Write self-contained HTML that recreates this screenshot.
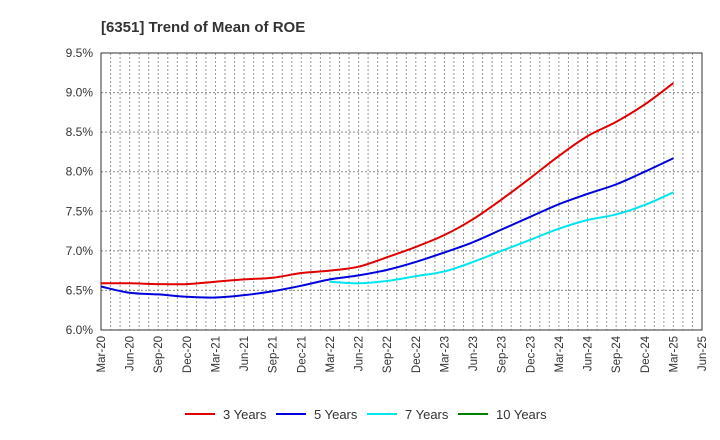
<!DOCTYPE html>
<html><head><meta charset="utf-8"><style>
body{margin:0;background:#fff;}
svg{display:block;font-family:"Liberation Sans",sans-serif;}
</style></head><body>
<svg width="720" height="440" xmlns="http://www.w3.org/2000/svg">
<text x="101" y="32" font-size="15" font-weight="bold" fill="#333">[6351]  Trend of Mean of ROE</text>
<g id="grid"></g>
<rect x="101" y="53" width="601" height="277" fill="none" stroke="#333" stroke-width="1"/>
<g id="yt"></g><g id="xt"></g><g id="lines"></g><g id="legend"></g>
</svg>
<script>
const xLabels=["Mar-20","Jun-20","Sep-20","Dec-20","Mar-21","Jun-21","Sep-21","Dec-21","Mar-22","Jun-22","Sep-22","Dec-22","Mar-23","Jun-23","Sep-23","Dec-23","Mar-24","Jun-24","Sep-24","Dec-24","Mar-25","Jun-25"];
const yTicks=[6.0,6.5,7.0,7.5,8.0,8.5,9.0,9.5];
const s3=[6.59,6.59,6.58,6.58,6.61,6.64,6.66,6.72,6.75,6.80,6.92,7.05,7.20,7.40,7.65,7.92,8.20,8.45,8.63,8.85,9.12];
const s5=[6.55,6.47,6.45,6.42,6.41,6.44,6.49,6.56,6.64,6.69,6.76,6.86,6.98,7.11,7.27,7.43,7.59,7.72,7.84,8.00,8.17];
const s7=[6.61,6.59,6.62,6.68,6.74,6.86,7.00,7.14,7.28,7.39,7.46,7.58,7.74];
const s7start=8;
const s10=[];
const NS="http://www.w3.org/2000/svg";
const X0=101,X1=702,Y0=330,Y1=53,months=63;
const xm=m=>X0+(X1-X0)*m/months;
const xq=i=>xm(i*3);
const y=v=>Y0-(v-6.0)/(9.5-6.0)*(Y0-Y1);
function mk(t,a,p){const e=document.createElementNS(NS,t);for(const k in a)e.setAttribute(k,a[k]);p.appendChild(e);return e;}
const grid=document.getElementById('grid');
for(let m=1;m<months;m++){const l=mk('line',{x1:xm(m),x2:xm(m),y1:Y1,y2:Y0,stroke:'#999','stroke-dasharray':'2,2','stroke-width':1},grid);

}
const yt=document.getElementById('yt');
yTicks.forEach(v=>{if(v>6&&v<9.5){const l=mk('line',{x1:X0,x2:X1,y1:y(v),y2:y(v),stroke:'#888','stroke-dasharray':'2,2'},grid);

}
const t=mk('text',{x:93,y:y(v)+4,'text-anchor':'end','font-size':12,fill:'#333'},yt);t.textContent=v.toFixed(1)+'%';

});
const xt=document.getElementById('xt');
xLabels.forEach((s,i)=>{const x=xq(i)+4;const t=mk('text',{x:x,y:336,'text-anchor':'end','font-size':11.5,fill:'#333',transform:`rotate(-90 ${x} 336)`},xt);t.textContent=s;

});
function path(vals,start){const p=vals.map((v,i)=>[xq(i+start),y(v)]);if(!p.length)return '';let d=`M${p[0][0]},${p[0][1]}`;
for(let i=0;i<p.length-1;i++){const a=p[i-1]||p[i],b=p[i],c=p[i+1],e=p[i+2]||c;
d+=` C${b[0]+(c[0]-a[0])/6},${b[1]+(c[1]-a[1])/6} ${c[0]-(e[0]-b[0])/6},${c[1]-(e[1]-b[1])/6} ${c[0]},${c[1]}`;}return d;}
const lines=document.getElementById('lines');
[[s3,0,'#e00000','line-3-years'],[s5,0,'#0000dd','line-5-years'],[s7,s7start,'#00e5ee','line-7-years'],[s10,0,'#008000','line-10-years']].forEach(([v,s,c,n])=>{if(!v.length)return;
const p=mk('path',{d:path(v,s),fill:'none',stroke:c,'stroke-width':2},lines);

});
const lg=document.getElementById('legend');
[['3 Years','#e00000',185],['5 Years','#0000dd',276],['7 Years','#00e5ee',367],['10 Years','#008000',458]].forEach(([s,c,x])=>{
const g=mk('g',{},lg);


mk('line',{x1:x,x2:x+30,y1:414,y2:414,stroke:c,'stroke-width':2},g);
const t=mk('text',{x:x+38,y:419,'font-size':13,fill:'#333'},g);t.textContent=s;});
</script>
</body></html>
